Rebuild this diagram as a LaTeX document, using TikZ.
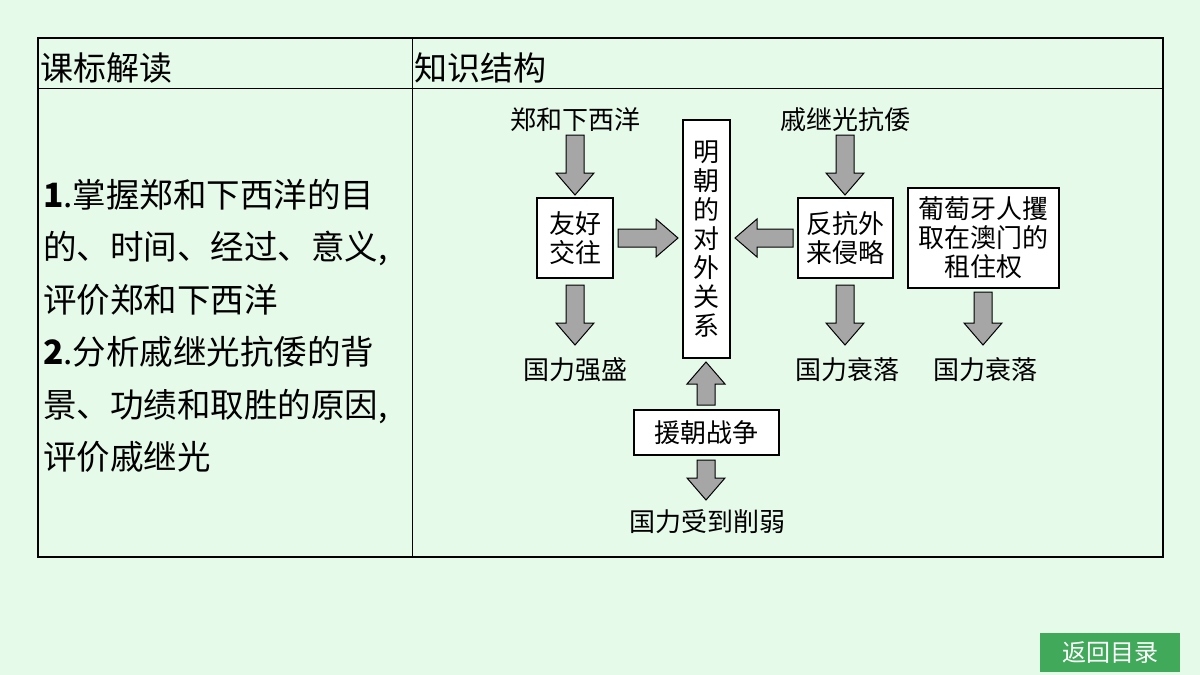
\documentclass[tikz,border=0pt]{standalone}
\usepackage{fontspec}
\setmainfont{Noto Sans CJK SC}
\newfontfamily\cjk{Noto Sans CJK SC}
\begin{document}
\begin{tikzpicture}[x=1pt,y=-1pt,
  bx/.style={draw=black,line width=1.2pt,fill=white,align=center,inner sep=0pt,font=\fontsize{26}{29}\selectfont},
  tx/.style={font=\fontsize{26}{29}\selectfont,inner sep=0pt},
  pics/barrow/.style={code={\draw[fill=gray!70,line width=1pt] (0,-9) -- (#1-22,-9) -- (#1-22,-19) -- (#1,0) -- (#1-22,19) -- (#1-22,9) -- (0,9) -- cycle;}}]
\fill[fill={rgb,255:red,230;green,250;blue,234}] (0,0) rectangle (1200,675);
\useasboundingbox (0,0) rectangle (1200,675);
\draw[line width=1.5pt] (38,38) rectangle (1163,557);
\draw[line width=1pt] (38,88) -- (1163,88);
\draw[line width=1pt] (412,38) -- (412,557);
\node[anchor=west,font=\fontsize{33}{36}\selectfont,inner sep=0pt] (h1) at (40,68) {课标解读};
\node[anchor=west,font=\fontsize{33}{36}\selectfont,inner sep=0pt] (h2) at (414,68) {知识结构};
\node[anchor=north west,align=left,inner sep=0pt,font=\fontsize{33.5}{52.5}\selectfont] (lt) at (43,179) {\textbf{1}.掌握郑和下西洋的目\\的、时间、经过、意义,\\评价郑和下西洋\\\textbf{2}.分析戚继光抗倭的背\\景、功绩和取胜的原因,\\评价戚继光};
\node[bx,minimum width=47,minimum height=238] (mc) at (706.5,239) {明\\朝\\的\\对\\外\\关\\系};
\node[tx] (zh) at (575,120) {郑和下西洋};
\node[bx,minimum width=76,minimum height=80] (yh) at (575,238) {友好\\交往};
\node[tx] (ql1) at (575,370) {国力强盛};
\node[tx] (qj) at (845,120) {戚继光抗倭};
\node[bx,minimum width=95,minimum height=80] (fk) at (845.5,238) {反抗外\\来侵略};
\node[tx] (ql2) at (847,370) {国力衰落};
\node[bx,minimum width=151,minimum height=100] (pt) at (983.5,238) {葡萄牙人攫\\取在澳门的\\租住权};
\node[tx] (ql3) at (985,370) {国力衰落};
\node[bx,minimum width=145,minimum height=45] (yc) at (706.5,432.5) {援朝战争};
\node[tx] (ql4) at (707,522) {国力受到削弱};
\pic[rotate=-90] at (575,135) {barrow=60};
\pic at (618,238) {barrow=60};
\pic[rotate=-90] at (575,285) {barrow=60};
\pic[rotate=-90] at (845,135) {barrow=60};
\pic[rotate=180] at (793,238) {barrow=58};
\pic[rotate=-90] at (845,285) {barrow=60};
\pic[rotate=-90] at (983,292) {barrow=53};
\pic[rotate=90] at (706,405) {barrow=43};
\pic[rotate=-90] at (706,460) {barrow=40};
\node[fill={rgb,255:red,64;green,170;blue,90},text=white,minimum width=140,minimum height=39,inner sep=0pt,font=\fontsize{24}{28}\selectfont] (btn) at (1110,652.5) {返回目录};
\end{tikzpicture}
\end{document}
